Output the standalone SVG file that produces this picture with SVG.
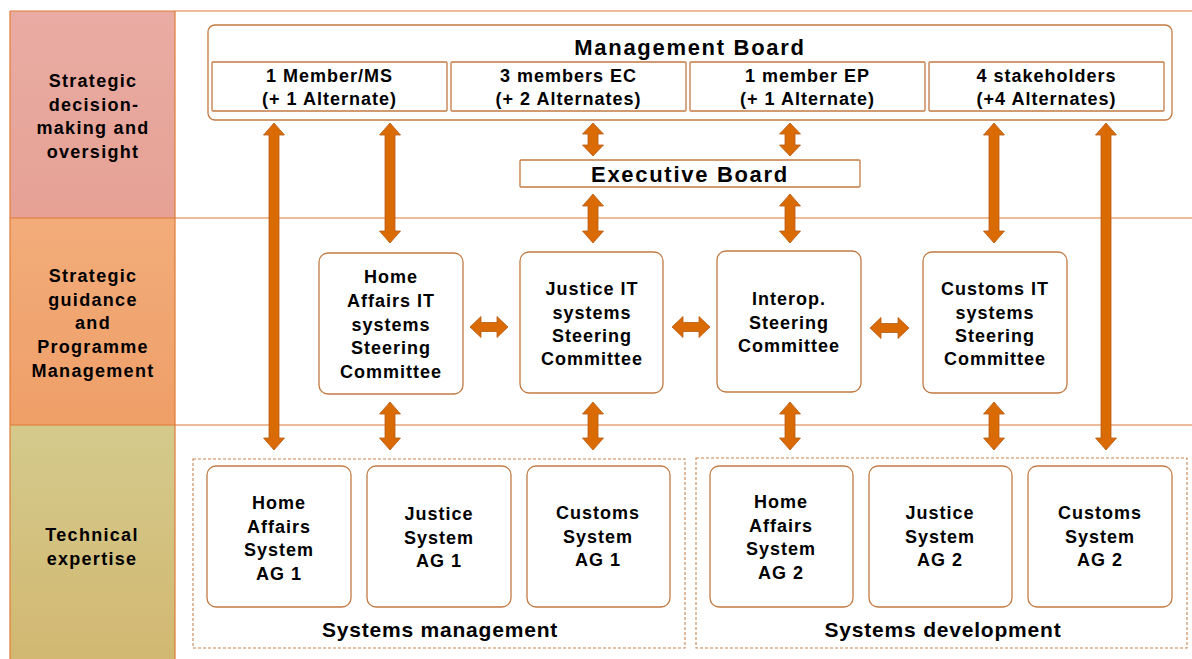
<svg xmlns="http://www.w3.org/2000/svg" width="1192" height="659" viewBox="0 0 1192 659">
<defs>
<linearGradient id="g1" x1="0" y1="0" x2="0" y2="1"><stop offset="0" stop-color="#E9ACA4"/><stop offset="1" stop-color="#E6A194"/></linearGradient>
<linearGradient id="g2" x1="0" y1="0" x2="0" y2="1"><stop offset="0" stop-color="#F2AC7A"/><stop offset="1" stop-color="#EF9F68"/></linearGradient>
<linearGradient id="g3" x1="0" y1="0" x2="0" y2="1"><stop offset="0" stop-color="#D4CA8C"/><stop offset="1" stop-color="#D2B872"/></linearGradient>
<style>
text{font-family:"Liberation Sans",Arial,sans-serif;font-weight:bold;fill:#000;text-anchor:middle}
.t{font-size:18px;letter-spacing:1px}
.lab{font-size:18px;letter-spacing:1.3px}
.big{font-size:22px;letter-spacing:1.7px}
.grp{font-size:21px;letter-spacing:0.8px}
.line{stroke:#E07B35;stroke-width:1.2;fill:none}
.box{fill:#fff;stroke:#C27A42;stroke-width:1.3}
.dash{fill:none;stroke:#C9844E;stroke-width:1.1;stroke-dasharray:3 2}
.arr{fill:#DA6A04;stroke:#B85A10;stroke-width:0.8}
</style>
</defs>

<g id="bands">
<rect x="10" y="11" width="165" height="207" fill="url(#g1)"/>
<rect x="10" y="218" width="165" height="207" fill="url(#g2)"/>
<rect x="10" y="425" width="165" height="234" fill="url(#g3)"/>
<line class="line" x1="10" y1="11" x2="1192" y2="11"/>
<line class="line" x1="10" y1="218" x2="1192" y2="218"/>
<line class="line" x1="10" y1="425" x2="1192" y2="425"/>
<line class="line" x1="10" y1="11" x2="10" y2="659"/>
<line class="line" x1="175" y1="11" x2="175" y2="659"/>
<text class="lab"><tspan x="93" y="87">Strategic</tspan><tspan x="94" y="110.5">decision-</tspan><tspan x="93" y="134">making and</tspan><tspan x="93" y="157.5">oversight</tspan></text>
<text class="lab"><tspan x="93" y="282">Strategic</tspan><tspan x="93" y="305.5">guidance</tspan><tspan x="93" y="329">and</tspan><tspan x="93" y="353">Programme</tspan><tspan x="93" y="377">Management</tspan></text>
<text class="lab"><tspan x="92" y="541">Technical</tspan><tspan x="92" y="564.5">expertise</tspan></text>
</g>

<g id="groups">
<rect class="dash" x="193" y="459" width="492" height="189"/>
<text class="grp" x="440" y="637">Systems management</text>
<rect class="dash" x="696" y="458" width="491" height="190"/>
<text class="grp" x="943" y="637">Systems development</text>
</g>

<g id="management-board">
<rect class="box" x="208" y="25" width="964" height="95" rx="7"/>
<text class="big" x="690" y="55">Management Board</text>
<rect class="box" x="212" y="62" width="235" height="49" rx="1"/>
<text class="t"><tspan x="329.5" y="82">1 Member/MS</tspan><tspan x="329.5" y="105">(+ 1 Alternate)</tspan></text>
<rect class="box" x="451" y="62" width="235" height="49" rx="1"/>
<text class="t"><tspan x="568.5" y="82">3 members EC</tspan><tspan x="568.5" y="105">(+ 2 Alternates)</tspan></text>
<rect class="box" x="690" y="62" width="235" height="49" rx="1"/>
<text class="t"><tspan x="807.5" y="82">1 member EP</tspan><tspan x="807.5" y="105">(+ 1 Alternate)</tspan></text>
<rect class="box" x="929" y="62" width="235" height="49" rx="1"/>
<text class="t"><tspan x="1046.5" y="82">4 stakeholders</tspan><tspan x="1046.5" y="105">(+4 Alternates)</tspan></text>
</g>

<g id="executive-board">
<rect class="box" x="520" y="160" width="340" height="27" rx="1"/>
<text class="big" x="690" y="182">Executive Board</text>
</g>

<g id="sc-home">
<rect class="box" x="319" y="253" width="144" height="141" rx="9"/>
<text class="t"><tspan x="391" y="283">Home</tspan><tspan x="391" y="307">Affairs IT</tspan><tspan x="391" y="330.5">systems</tspan><tspan x="391" y="354">Steering</tspan><tspan x="391" y="378">Committee</tspan></text>
</g>
<g id="sc-justice">
<rect class="box" x="520" y="252" width="143" height="141" rx="9"/>
<text class="t"><tspan x="592" y="295">Justice IT</tspan><tspan x="592" y="318.5">systems</tspan><tspan x="592" y="342">Steering</tspan><tspan x="592" y="365">Committee</tspan></text>
</g>
<g id="sc-interop">
<rect class="box" x="717" y="251" width="144" height="141" rx="9"/>
<text class="t"><tspan x="789" y="305">Interop.</tspan><tspan x="789" y="328.5">Steering</tspan><tspan x="789" y="352">Committee</tspan></text>
</g>
<g id="sc-customs">
<rect class="box" x="923" y="252" width="144" height="141" rx="9"/>
<text class="t"><tspan x="995" y="295">Customs IT</tspan><tspan x="995" y="318.5">systems</tspan><tspan x="995" y="342">Steering</tspan><tspan x="995" y="365">Committee</tspan></text>
</g>

<g id="ag-home1">
<rect class="box" x="207" y="466" width="144" height="141" rx="9"/>
<text class="t"><tspan x="279" y="509">Home</tspan><tspan x="279" y="532.5">Affairs</tspan><tspan x="279" y="556">System</tspan><tspan x="279" y="580">AG 1</tspan></text>
</g>
<g id="ag-justice1">
<rect class="box" x="367" y="466" width="144" height="141" rx="9"/>
<text class="t"><tspan x="439" y="520">Justice</tspan><tspan x="439" y="544">System</tspan><tspan x="439" y="567">AG 1</tspan></text>
</g>
<g id="ag-customs1">
<rect class="box" x="527" y="466" width="143" height="141" rx="9"/>
<text class="t"><tspan x="598" y="519">Customs</tspan><tspan x="598" y="543">System</tspan><tspan x="598" y="566">AG 1</tspan></text>
</g>
<g id="ag-home2">
<rect class="box" x="710" y="466" width="143" height="141" rx="9"/>
<text class="t"><tspan x="781" y="508">Home</tspan><tspan x="781" y="531.5">Affairs</tspan><tspan x="781" y="555">System</tspan><tspan x="781" y="579">AG 2</tspan></text>
</g>
<g id="ag-justice2">
<rect class="box" x="869" y="466" width="143" height="141" rx="9"/>
<text class="t"><tspan x="940" y="519">Justice</tspan><tspan x="940" y="543">System</tspan><tspan x="940" y="566">AG 2</tspan></text>
</g>
<g id="ag-customs2">
<rect class="box" x="1028" y="466" width="144" height="141" rx="9"/>
<text class="t"><tspan x="1100" y="519">Customs</tspan><tspan x="1100" y="543">System</tspan><tspan x="1100" y="566">AG 2</tspan></text>
</g>

<g id="connectors">
<path class="arr" d="M274,123 L284.5,135 L279,135 L279,438 L284.5,438 L274,450 L263.5,438 L269,438 L269,135 L263.5,135 Z"/>
<path class="arr" d="M390,123 L400.5,135 L395,135 L395,231 L400.5,231 L390,243 L379.5,231 L385,231 L385,135 L379.5,135 Z"/>
<path class="arr" d="M593,123 L603.5,134 L598,134 L598,145 L603.5,145 L593,156 L582.5,145 L588,145 L588,134 L582.5,134 Z"/>
<path class="arr" d="M790,123 L800.5,134 L795,134 L795,145 L800.5,145 L790,156 L779.5,145 L785,145 L785,134 L779.5,134 Z"/>
<path class="arr" d="M994,123 L1004.5,135 L999,135 L999,231 L1004.5,231 L994,243 L983.5,231 L989,231 L989,135 L983.5,135 Z"/>
<path class="arr" d="M1106,123 L1116.5,135 L1111,135 L1111,438 L1116.5,438 L1106,450 L1095.5,438 L1101,438 L1101,135 L1095.5,135 Z"/>
<path class="arr" d="M593,194 L603.5,206 L598,206 L598,231 L603.5,231 L593,243 L582.5,231 L588,231 L588,206 L582.5,206 Z"/>
<path class="arr" d="M790,194 L800.5,206 L795,206 L795,231 L800.5,231 L790,243 L779.5,231 L785,231 L785,206 L779.5,206 Z"/>
<path class="arr" d="M390,402 L400.5,414 L395,414 L395,438 L400.5,438 L390,450 L379.5,438 L385,438 L385,414 L379.5,414 Z"/>
<path class="arr" d="M593,402 L603.5,414 L598,414 L598,438 L603.5,438 L593,450 L582.5,438 L588,438 L588,414 L582.5,414 Z"/>
<path class="arr" d="M790,402 L800.5,414 L795,414 L795,438 L800.5,438 L790,450 L779.5,438 L785,438 L785,414 L779.5,414 Z"/>
<path class="arr" d="M994,402 L1004.5,414 L999,414 L999,438 L1004.5,438 L994,450 L983.5,438 L989,438 L989,414 L983.5,414 Z"/>
<path class="arr" d="M470,327 L481,316.5 L481,322.5 L497,322.5 L497,316.5 L508,327 L497,337.5 L497,331.5 L481,331.5 L481,337.5 Z"/>
<path class="arr" d="M672,327 L683,316.5 L683,322.5 L699,322.5 L699,316.5 L710,327 L699,337.5 L699,331.5 L683,331.5 L683,337.5 Z"/>
<path class="arr" d="M870,328 L881,317.5 L881,323.5 L898,323.5 L898,317.5 L909,328 L898,338.5 L898,332.5 L881,332.5 L881,338.5 Z"/>
</g>
</svg>
